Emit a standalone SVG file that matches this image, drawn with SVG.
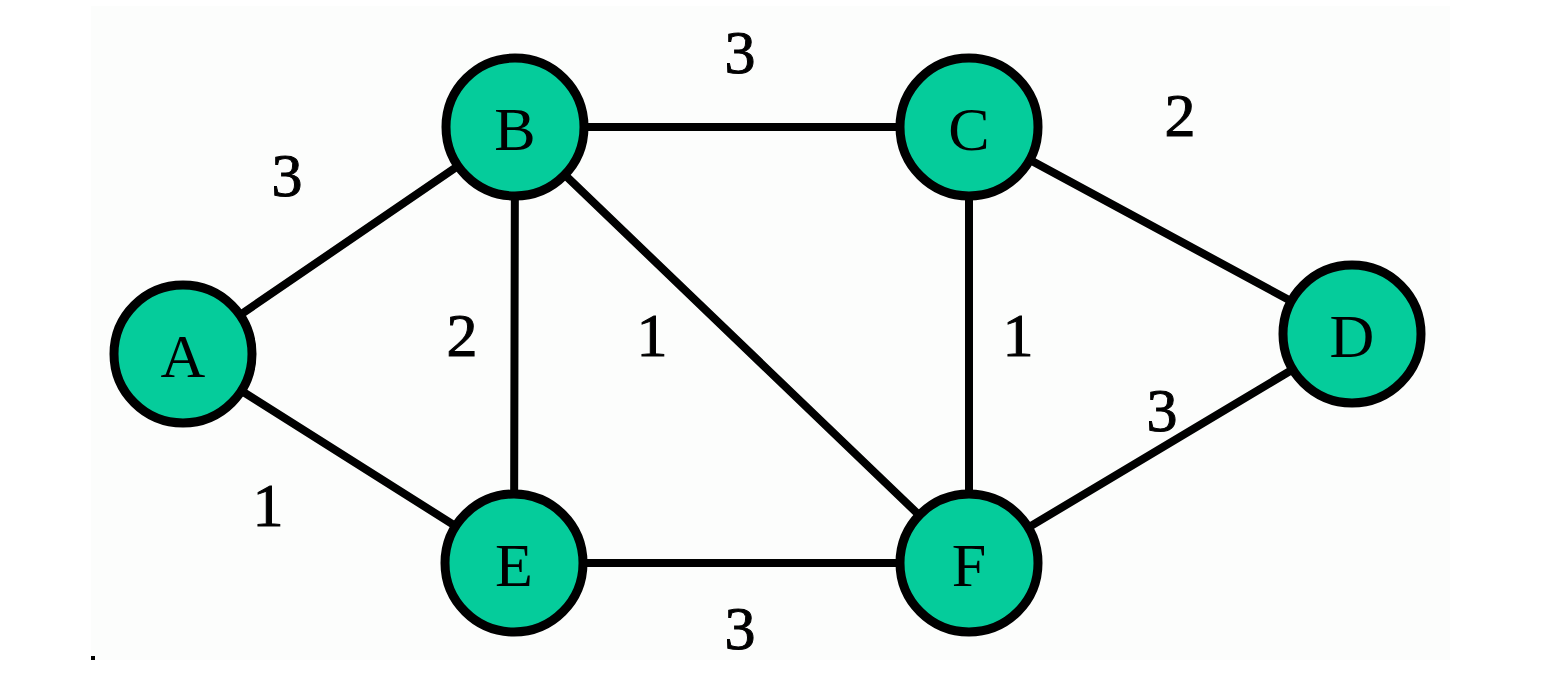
<svg xmlns="http://www.w3.org/2000/svg" width="1541" height="691" viewBox="0 0 1541 691">
  <style>
    .edge { stroke: #000; stroke-width: 8; stroke-linecap: round; fill: none; }
    .node circle { fill: #05cc9b; stroke: #000; stroke-width: 9; }
    .node text { font-family: "Liberation Serif", "Times New Roman", serif; font-size: 62px; fill: #000; text-anchor: middle; }
    .weight { font-family: "Liberation Serif", "Times New Roman", serif; font-size: 62px; fill: #000; stroke: #000; stroke-width: 1; text-anchor: middle; }
  </style>
  <rect width="1541" height="691" fill="#ffffff"/>
  <rect x="91" y="6" width="1359" height="654" fill="#fcfdfc"/>
  <rect x="91" y="656" width="4" height="4" fill="#000"/>

  <g id="connectors">
    <line class="edge" x1="183" y1="354" x2="515" y2="127"/>
    <line class="edge" x1="183" y1="354" x2="514" y2="563"/>
    <line class="edge" x1="515" y1="127" x2="969" y2="127"/>
    <line class="edge" x1="515" y1="127" x2="514" y2="563"/>
    <line class="edge" x1="515" y1="127" x2="969" y2="563"/>
    <line class="edge" x1="969" y1="127" x2="969" y2="563"/>
    <line class="edge" x1="969" y1="127" x2="1352" y2="334"/>
    <line class="edge" x1="1352" y1="334" x2="969" y2="563"/>
    <line class="edge" x1="514" y1="563" x2="969" y2="563"/>
  </g>

  <g id="weights">
    <text class="weight" x="287" y="196">3</text>
    <text class="weight" x="740" y="73">3</text>
    <text class="weight" x="1180" y="136">2</text>
    <text class="weight" x="462" y="356">2</text>
    <text class="weight" x="652" y="356">1</text>
    <text class="weight" x="1018" y="356">1</text>
    <text class="weight" x="1162" y="431">3</text>
    <text class="weight" x="268" y="526">1</text>
    <text class="weight" x="740" y="649">3</text>
  </g>

  <g id="node-A" class="node"><circle cx="183" cy="354" r="69"/><text x="183" y="377">A</text></g>
  <g id="node-B" class="node"><circle cx="515" cy="127" r="69"/><text x="515" y="150">B</text></g>
  <g id="node-C" class="node"><circle cx="969" cy="127" r="69"/><text x="969" y="150">C</text></g>
  <g id="node-D" class="node"><circle cx="1352" cy="334" r="69"/><text x="1352" y="357">D</text></g>
  <g id="node-E" class="node"><circle cx="514" cy="563" r="69"/><text x="514" y="586">E</text></g>
  <g id="node-F" class="node"><circle cx="969" cy="563" r="69"/><text x="969" y="586">F</text></g>
</svg>
